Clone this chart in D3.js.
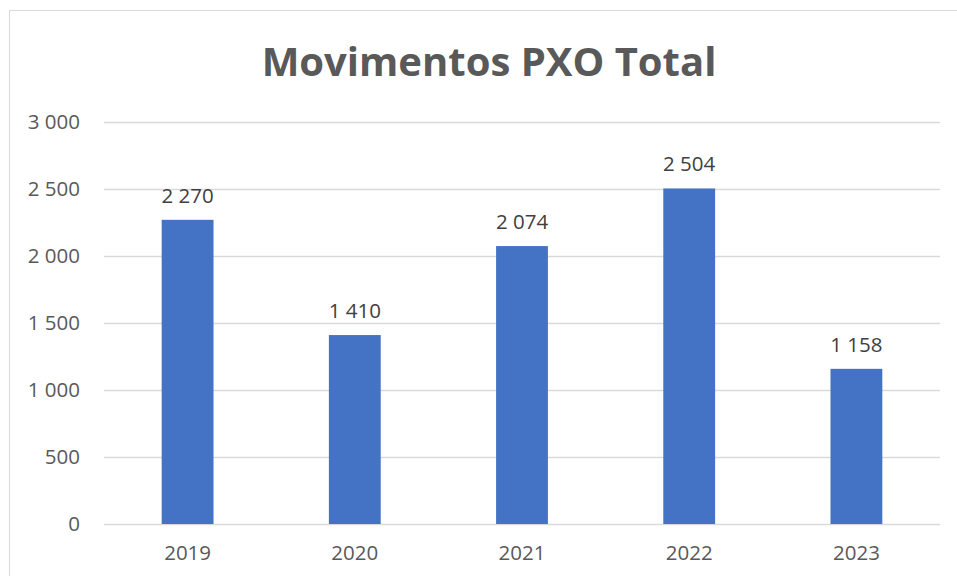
<!DOCTYPE html>
<html>
<head>
<meta charset="utf-8">
<script src="https://cdn.jsdelivr.net/npm/d3@7"></script>
<style>
  body { margin: 0; background: #fff; }
  text { font-family: "Open Sans", sans-serif; }
</style>
</head>
<body>
<script>
// chart data
const years = ["2019", "2020", "2021", "2022", "2023"];
const totals = [2270, 1410, 2074, 2504, 1158];
const yTicks = [0, 500, 1000, 1500, 2000, 2500, 3000];

const W = 957, H = 576;
const margin = {top: 122, right: 17, bottom: 52, left: 104};

const svg = d3.select("body").append("svg")
    .attr("width", W)
    .attr("height", H);

// outer chart border
svg.append("rect")
    .attr("x", 9.5).attr("y", 10.5)
    .attr("width", W).attr("height", H)
    .attr("fill", "none")
    .attr("stroke", "#d9d9d9");

const x = d3.scaleBand()
    .domain(years)
    .range([margin.left, W - margin.right])
    .paddingInner(0.69)
    .paddingOuter(0.345);

const y = d3.scaleLinear()
    .domain([0, 3000])
    .range([H - margin.bottom, margin.top]);

const fmt = v => d3.format(",")(v).replace(/,/g, " ");

// gridlines
svg.append("g")
  .selectAll("line")
  .data(yTicks)
  .join("line")
    .attr("x1", margin.left).attr("x2", W - margin.right)
    .attr("y1", d => Math.round(y(d)) + 0.5)
    .attr("y2", d => Math.round(y(d)) + 0.5)
    .attr("stroke", "#d9d9d9")
    .attr("stroke-width", 1.5);

// y axis labels
const yAxis = svg.append("g")
    .attr("transform", "translate(" + (margin.left - 24) + ",0)")
    .call(d3.axisLeft(y).tickValues(yTicks).tickFormat(fmt).tickSize(0).tickPadding(0));
yAxis.select(".domain").remove();
yAxis.selectAll("text")
    .attr("fill", "#595959")
    .style("font-size", "20.5px");

// x axis labels
const xAxis = svg.append("g")
    .attr("transform", "translate(0," + (H - margin.bottom) + ")")
    .call(d3.axisBottom(x).tickSize(0).tickPadding(21));
xAxis.select(".domain").remove();
xAxis.selectAll("text")
    .attr("fill", "#595959")
    .style("font-size", "20.5px");

// bars
svg.append("g")
  .selectAll("rect")
  .data(totals)
  .join("rect")
    .attr("x", (d, i) => x(years[i]))
    .attr("y", d => y(d))
    .attr("width", x.bandwidth())
    .attr("height", d => y(0) - y(d))
    .attr("fill", "#4472c4");

// data labels
svg.append("g")
  .selectAll("text")
  .data(totals)
  .join("text")
    .attr("x", (d, i) => x(years[i]) + x.bandwidth() / 2)
    .attr("y", d => y(d) - 17)
    .attr("text-anchor", "middle")
    .attr("fill", "#404040")
    .style("font-size", "20.5px")
    .text(fmt);

// title
svg.append("text")
    .attr("x", 489)
    .attr("y", 76)
    .attr("text-anchor", "middle")
    .attr("fill", "#595959")
    .style("font-size", "40px")
    .style("font-weight", "bold")
    .text("Movimentos PXO Total");
</script>
</body>
</html>
